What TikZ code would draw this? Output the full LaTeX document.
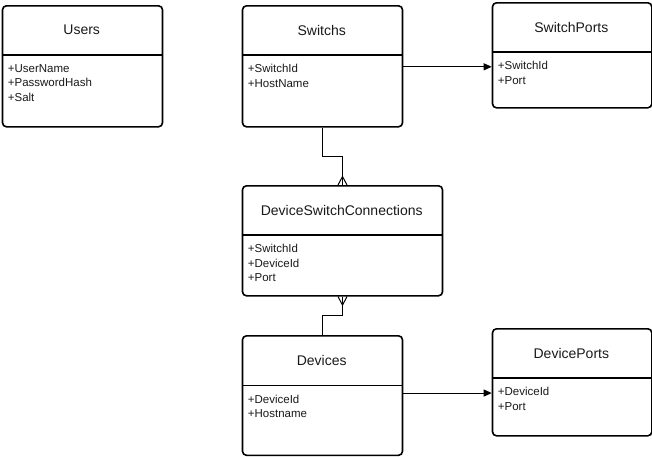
\documentclass[tikz,border=0pt]{standalone}
\usepackage{fontspec}
\setmainfont{Liberation Sans}
\usetikzlibrary{arrows.meta,calc}

\tikzset{
  classbox/.style={draw=black, line width=1.6pt, rounded corners=4pt,
    anchor=north west, inner sep=0pt},
  divider/.style={draw=black, line width=1.3pt},
  title/.style={font=\fontsize{14}{16.8}\selectfont, inner sep=0pt, text=black!90},
  fields/.style={font=\fontsize{11.5}{14.4}\selectfont, align=left, inner sep=0pt,
    anchor=north west, text=black!90},
  link/.style={draw=black, line width=1pt},
  assoc/.style={link, -{Triangle[length=8pt,width=7pt]}},
}

% class box: name, left, top, width, height, header height, title, fields
\newcommand{\classnode}[8]{%
  \node[classbox, minimum width=#4pt, minimum height=#5pt] (#1) at (#2,#3) {};
  \draw[divider] (#2,#3+#6) -- (#2+#4,#3+#6);
  \node[title] (#1-title) at (#2+#4/2,#3+#6/2) {#7};
  \node[fields] (#1-fields) at (#2+6,#3+#6+9.2) {#8};
}

\begin{document}
\begin{tikzpicture}[x=1pt,y=-1pt]
\useasboundingbox (0,0) rectangle (652,456);

\classnode{users}{1.7}{5}{160}{121}{50}{Users}{+UserName\\+PasswordHash\\+Salt}
\classnode{switchs}{241.7}{5}{160}{121}{50}{Switchs}{+SwitchId\\+HostName}
\classnode{switchports}{491.7}{2}{159.3}{105}{50}{SwitchPorts}{+SwitchId\\+Port}
\classnode{dsc}{241.7}{185}{200}{110}{50}{DeviceSwitchConnections}{+SwitchId\\+DeviceId\\+Port}
\classnode{devices}{241.7}{335}{160}{119.5}{50.5}{Devices}{+DeviceId\\+Hostname}
\classnode{deviceports}{491.7}{328}{159.3}{107}{50}{DevicePorts}{+DeviceId\\+Port}

% one-to-many: Switchs -> DeviceSwitchConnections
\coordinate (mid1) at ($(switchs.south)!0.5!(dsc.north)$);
\draw[link] (switchs.south) |- (mid1) -| (dsc.north);
\draw[link] ([xshift=-4.5pt]dsc.north) -- ([yshift=8.5pt]dsc.north) -- ([xshift=4.5pt]dsc.north);

% one-to-many: Devices -> DeviceSwitchConnections
\coordinate (mid2) at ($(dsc.south)!0.5!(devices.north)$);
\draw[link] (devices.north) |- (mid2) -| (dsc.south);
\draw[link] ([xshift=-4.5pt]dsc.south) -- ([yshift=-8.5pt]dsc.south) -- ([xshift=4.5pt]dsc.south);

% port tables
\coordinate (sw-out) at ([yshift=-0.5pt]switchs.east);
\draw[assoc] (sw-out) -- (switchports.west |- sw-out);
\coordinate (dev-out) at ([yshift=2.5pt]devices.east);
\draw[assoc] (dev-out) -- (deviceports.west |- dev-out);
\end{tikzpicture}
\end{document}
